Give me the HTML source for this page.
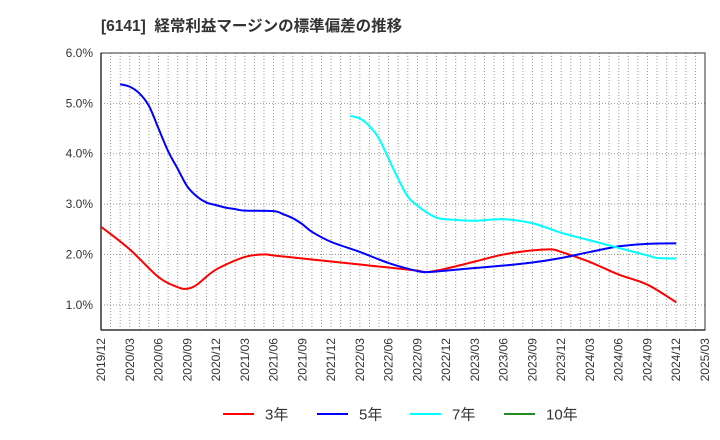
<!DOCTYPE html>
<html><head><meta charset="utf-8"><style>
body{margin:0;background:#fff;}
svg{display:block;font-family:"Liberation Sans","Noto Sans CJK JP",sans-serif;}
</style></head><body>
<svg width="720" height="440" viewBox="0 0 720 440">
<text x="101" y="31" font-size="15.5" font-weight="bold" fill="#333">[6141]&#160; 経常利益マージンの標準偏差の推移</text>
<g id="grid"></g>
<g id="axes"></g>
<g id="series"></g>
<g id="legend"></g>
</svg>
<script>
const xLabels=["2019/12","2020/03","2020/06","2020/09","2020/12","2021/03","2021/06","2021/09","2021/12","2022/03","2022/06","2022/09","2022/12","2023/03","2023/06","2023/09","2023/12","2024/03","2024/06","2024/09","2024/12","2025/03"];
const yTicks=[1,2,3,4,5,6];
// month index from 2019/12
const m3=[0,3,6,8,9,10,12,15,17,18,21,24,27,30,33,34,36,39,42,45,47,48,51,54,57,60];
const v3=[2.55,2.1,1.55,1.35,1.32,1.4,1.7,1.95,2.0,1.98,1.92,1.86,1.8,1.74,1.68,1.65,1.72,1.86,2.0,2.08,2.1,2.05,1.85,1.6,1.4,1.05];
const m5=[2,3,4,5,6,7,8,9,10,11,12,13,14,15,18,19,20,21,22,24,27,30,33,34,36,39,42,45,48,51,54,57,60];
const v5=[5.38,5.33,5.2,4.95,4.5,4.05,3.7,3.35,3.15,3.03,2.98,2.93,2.9,2.87,2.86,2.8,2.72,2.6,2.45,2.25,2.05,1.83,1.67,1.65,1.68,1.73,1.78,1.84,1.93,2.05,2.16,2.21,2.22];
const m7=[26,27,28,29,30,31,32,33,34,35,36,39,42,45,48,51,54,57,58,60];
const v7=[4.75,4.7,4.55,4.3,3.9,3.5,3.15,2.97,2.83,2.73,2.7,2.67,2.7,2.62,2.43,2.28,2.13,1.98,1.93,1.92];
const L=101,R=705,T=53,B=330;
const X=m=>L+m*(R-L)/63;
const Y=v=>T+(6-v)*(B-T)/5.5;
const NS="http://www.w3.org/2000/svg";
function mk(tag,attrs,parent){const e=document.createElementNS(NS,tag);for(const k in attrs)e.setAttribute(k,attrs[k]);parent.appendChild(e);return e;}
const grid=document.getElementById('grid'),axes=document.getElementById('axes'),series=document.getElementById('series'),legend=document.getElementById('legend');
for(let m=1;m<63;m++){const l=mk('line',{x1:X(m),x2:X(m),y1:T,y2:B,stroke:'#999','stroke-width':1,'stroke-dasharray':'1,2'},grid);

}
yTicks.forEach(v=>{const l=mk('line',{x1:L,x2:R,y1:Y(v),y2:Y(v),stroke:'#999','stroke-width':1,'stroke-dasharray':'1,2'},grid);


const t=mk('text',{x:L-8,y:Y(v)+4,'text-anchor':'end','font-size':12,fill:'#333'},axes);t.textContent=v.toFixed(1)+'%';

});
const fr=mk('rect',{x:L,y:T,width:R-L,height:B-T,fill:'none',stroke:'#333','stroke-width':1},axes);


const xl=mk('line',{x1:L,x2:R,y1:B,y2:B,stroke:'#333','stroke-width':1.5},axes);


const yl=mk('line',{x1:L,x2:L,y1:T,y2:B,stroke:'#333','stroke-width':1.5},axes);


xLabels.forEach((s,i)=>{const x=X(i*3)+4;const t=mk('text',{x:x,y:338,'text-anchor':'end','font-size':12,fill:'#333',transform:`rotate(-90 ${x} 338)`},axes);t.textContent=s;

});
function path(ms,vs){const p=ms.map((m,i)=>[X(m),Y(vs[i])]);let d=`M${p[0][0]},${p[0][1]}`;
for(let i=0;i<p.length-1;i++){const p0=p[i-1]||p[i],p1=p[i],p2=p[i+1],p3=p[i+2]||p2;
d+=` C${p1[0]+(p2[0]-p0[0])/6},${p1[1]+(p2[1]-p0[1])/6} ${p2[0]-(p3[0]-p1[0])/6},${p2[1]-(p3[1]-p1[1])/6} ${p2[0]},${p2[1]}`;}return d;}
[[m3,v3,'#ff0000','series-3yr'],[m5,v5,'#0000ff','series-5yr'],[m7,v7,'#00ffff','series-7yr']].forEach(([m,v,c,n])=>{
const p=mk('path',{d:path(m,v),fill:'none',stroke:c,'stroke-width':2},series);

});
[['3年','#ff0000',223],['5年','#0000ff',317],['7年','#00ffff',410],['10年','#228b22',504]].forEach(([s,c,x])=>{
const l=mk('line',{x1:x,x2:x+31,y1:414,y2:414,stroke:c,'stroke-width':2},legend);


const t=mk('text',{x:x+42,y:419.5,'font-size':15,fill:'#333'},legend);t.textContent=s;

});
</script>
</body></html>
